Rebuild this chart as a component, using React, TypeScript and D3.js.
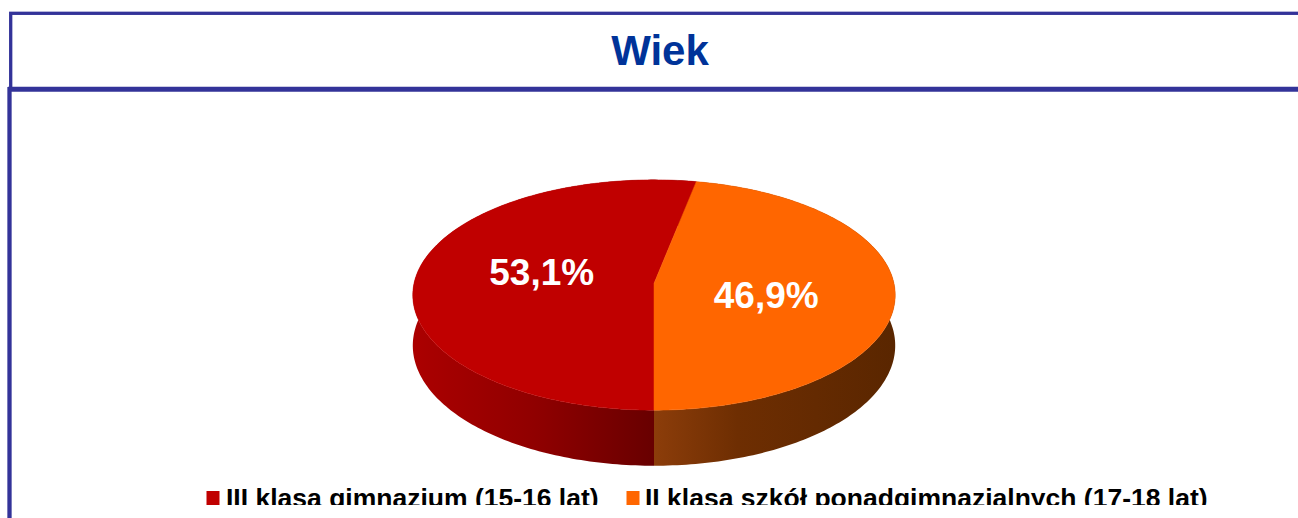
import React from "react";
import * as d3 from "d3";

const title = "Wiek";
const categories = [
  "III klasa gimnazium (15-16 lat)",
  "II klasa szkół ponadgimnazjalnych (17-18 lat)",
];
const values = [53.1, 46.9];
const topColors = ["#C00000", "#FF6600"];
const sideStops = [
  [
    [0, "#ab0000"],
    [0.5, "#900000"],
    [1, "#680000"],
  ],
  [
    [0, "#8c3d0a"],
    [0.35, "#6e2e02"],
    [1, "#5a2600"],
  ],
];

const W = 1298;
const H = 518;
const CX = 654;
const CY = 283.5;
const RX = 240;
const RY = 114;
const K = 0.1;
const DEPTH = 50;
const BORDER = "#333399";

function project(a: number, r: number, depth: number): [number, number] {
  const u = Math.sin(a);
  const v = -Math.cos(a);
  const s = 1 / (1 - K * v * r);
  return [CX + RX * r * u * s, CY + RY * r * v * s + depth * s];
}

const fmt = (v: number) => d3.format(".1f")(v).replace(".", ",") + "%";

export default function App() {
  const pie = d3
    .pie<number>()
    .sort(null)
    .startAngle(Math.PI)
    .endAngle(3 * Math.PI);
  const arcs = pie(values);
  const line = d3.line();
  const samples = (a0: number, a1: number) => {
    const n = Math.max(8, Math.ceil(((a1 - a0) * 180) / Math.PI));
    return d3.range(n + 1).map((i) => a0 + ((a1 - a0) * i) / n);
  };

  const sides = arcs.map((d) => {
    const angs = samples(d.startAngle, d.endAngle);
    const top = angs.map((a) => project(a, 1, 0));
    const bot = angs.slice().reverse().map((a) => project(a, 1, DEPTH));
    return line([...top, ...bot]) + "Z";
  });
  const tops = arcs.map((d) => {
    const angs = samples(d.startAngle, d.endAngle);
    const pts = [project(0, 0, 0), ...angs.map((a) => project(a, 1, 0))];
    return line(pts) + "Z";
  });
  const labels = arcs.map((d) => {
    const a = (d.startAngle + d.endAngle) / 2;
    const u = Math.sin(a);
    const v = -Math.cos(a);
    return [CX + RX * 0.47 * u, CY + RY * 1.0 * v + 13] as [number, number];
  });

  const legendX = [206.5, 626.5];
  const legendTextX = [226, 645];

  return (
    <svg
      width={W}
      height={H}
      style={{ position: "absolute", left: 0, top: 0, background: "#fff" }}
      fontFamily="'Liberation Sans', Arial, sans-serif"
    >
      <defs>
        {sideStops.map((stops, i) => (
          <linearGradient
            key={i}
            id={`side${i}`}
            gradientUnits="userSpaceOnUse"
            x1={i === 0 ? CX - RX : CX}
            x2={i === 0 ? CX : CX + RX}
            y1={0}
            y2={0}
          >
            {stops.map(([o, c], j) => (
              <stop key={j} offset={o as number} stopColor={c as string} />
            ))}
          </linearGradient>
        ))}
        <clipPath id="legendClip">
          <rect x={0} y={0} width={W} height={505} />
        </clipPath>
      </defs>

      {/* header box */}
      <rect
        x={10.7}
        y={13.3}
        width={W + 20}
        height={76}
        fill="none"
        stroke={BORDER}
        strokeWidth={3.3}
      />
      <line x1={8} x2={W + 10} y1={89.2} y2={89.2} stroke={BORDER} strokeWidth={5} />
      <line x1={9.5} x2={9.5} y1={87} y2={H + 10} stroke={BORDER} strokeWidth={4.3} />

      <text
        x={660}
        y={65}
        textAnchor="middle"
        fontSize={42}
        fontWeight="bold"
        fill="#003399"
      >
        {title}
      </text>

      {/* pie sides */}
      {sides.map((p, i) => (
        <path key={`s${i}`} d={p} fill={`url(#side${i})`} />
      ))}
      {/* pie tops */}
      {tops.map((p, i) => (
        <path key={`t${i}`} d={p} fill={topColors[i]} stroke={topColors[i]} strokeWidth={0.5} />
      ))}
      {labels.map(([x, y], i) => (
        <text
          key={`l${i}`}
          x={x}
          y={y}
          textAnchor="middle"
          fontSize={37}
          fontWeight="bold"
          fill="#ffffff"
        >
          {fmt(values[i])}
        </text>
      ))}

      {/* legend */}
      <g clipPath="url(#legendClip)">
        {categories.map((c, i) => (
          <g key={`lg${i}`}>
            <rect x={legendX[i]} y={491} width={13} height={14} fill={topColors[i]} />
            <text
              x={legendTextX[i]}
              y={507}
              fontSize={26.5}
              fontWeight="bold"
              fill="#000"
            >
              {c}
            </text>
          </g>
        ))}
      </g>
    </svg>
  );
}
